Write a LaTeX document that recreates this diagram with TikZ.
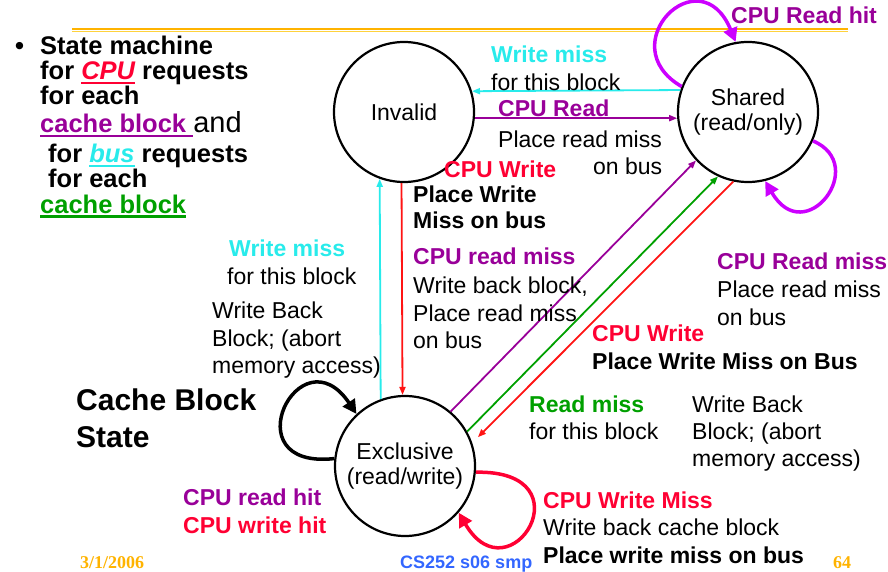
\documentclass[tikz,border=0pt]{standalone}
\usepackage{fontspec}
\setmainfont{Liberation Sans}
\newfontfamily\timesf{Liberation Serif}
\usetikzlibrary{arrows.meta}
\definecolor{cred}{RGB}{255,0,51}
\definecolor{lred}{RGB}{255,20,20}
\definecolor{cpur}{RGB}{153,0,153}
\definecolor{ccyan}{RGB}{40,235,235}
\definecolor{cgreen}{RGB}{0,160,0}
\definecolor{cmag}{RGB}{204,0,255}
\definecolor{corange}{RGB}{255,179,0}
\definecolor{cyel}{RGB}{255,210,60}
\definecolor{cblue}{RGB}{51,102,255}
\newcommand\myul[1]{\setbox0\hbox{#1}\rlap{\rule[-4.5pt]{\wd0}{2.2pt}}\box0}
\begin{document}
\begin{tikzpicture}[x=1pt,y=-1pt,
  lbl/.style={anchor=base west,inner sep=0pt,font=\fontsize{23}{27}\selectfont},
  blbl/.style={anchor=base west,inner sep=0pt,font=\fontsize{23}{27}\selectfont\bfseries},
  bul/.style={anchor=base west,inner sep=0pt,font=\fontsize{25.5}{30}\selectfont\bfseries},
  state/.style={draw,circle,line width=2.2pt,minimum size=140pt,inner sep=0pt,align=center,font=\fontsize{23}{25}\selectfont},
  conn/.style={line width=1.8pt,-{Triangle[length=8pt,width=6pt]}},
  loopc/.style={line width=3.5pt,-{Triangle[length=14pt,width=14pt]}},
  foot/.style={anchor=base west,inner sep=0pt,font=\fontsize{18}{20}\selectfont\bfseries}
]
\useasboundingbox (0,0) rectangle (888,572);
% title rule
\draw[corange,line width=2pt] (72,29) -- (848,29);
\draw[cyel,line width=1.5pt] (72,31.6) -- (848,31.6);

% bullet text
\node[bul] (bdot) at (15,55) {\textbullet};
\node[bul] (b1) at (40,55) {State machine};
\node[bul] (b2) at (40,80) {for {\color{cred}\myul{\itshape CPU}} requests};
\node[bul] (b3) at (40,105) {for each};
\node[bul] (b4) at (40,133) {{\color{cpur}\myul{cache block }}{\fontsize{29}{30}\selectfont\mdseries and}};
\node[bul] (b5) at (48,163) {for {\color{ccyan}\myul{\itshape bus}} requests};
\node[bul] (b6) at (48,188) {for each};
\node[bul] (b7) at (40,213) {\color{cgreen}\myul{cache block}};

\node[anchor=base west,inner sep=0pt,font=\fontsize{30}{36}\selectfont\bfseries,align=left] (cbs) at (76,410) {Cache Block};
\node[anchor=base west,inner sep=0pt,font=\fontsize{30}{36}\selectfont\bfseries] (cbs2) at (76,447) {State};

% states
\node[state] (inv) at (404,112) {Invalid};
\node[state] (sh) at (748,112) {Shared\\(read/only)};
\node[state] (exc) at (405,466) {Exclusive\\(read/write)};

% straight transitions
\draw[conn,ccyan] (sh.162.5) -- (inv.17.5);
\draw[conn,cpur] (inv.-5.7) -- (sh.185.7);
\draw[conn,ccyan] (exc.110.9) -- (inv.250);
\draw[conn,lred] (inv.-92.5) -- (exc.92.5);
\draw[conn,cpur] (exc.50.5) -- (sh.223);
\draw[conn,cgreen] (exc.29.1) -- (sh.245.5);
\draw[conn,lred,shorten >=8pt] (sh.258) -- (exc.19);

% loops
\draw[loopc,cmag] (sh.159.5) .. controls (610,45) and (700,-45) .. (sh.100.8);
\draw[loopc,cmag] (sh.-24.4) .. controls (870,165) and (805,250) .. (sh.-76.3);
\draw[loopc,black] (exc.174) .. controls (230,470) and (300,330) .. (exc.133);
\draw[loopc,cred] (exc.-5.7) .. controls (590,470) and (510,600) .. (exc.-41.5);

% labels
\node[blbl,text=cpur] (lrh) at (731,24) {CPU Read hit};
\node[blbl,text=ccyan] (l1) at (491,63) {Write miss};
\node[lbl] (l2) at (491,91) {for this block};
\node[blbl,text=cpur] (l3) at (498,117) {CPU Read};
\node[lbl] (l4) at (498,148) {Place read miss};
\node[lbl] (l5) at (593,175) {on bus};
\node[blbl,text=cred] (l6) at (444,178) {CPU Write};
\node[blbl] (l7) at (413,202) {Place Write};
\node[blbl] (l8) at (413,228) {Miss on bus};
\node[blbl,text=cpur] (l9) at (413,264) {CPU read miss};
\node[lbl] (l10) at (413,293) {Write back block,};
\node[lbl] (l11) at (413,321) {Place read miss};
\node[lbl] (l12) at (413,348) {on bus};
\node[blbl,text=ccyan] (l13) at (229,256) {Write miss};
\node[lbl] (l14) at (227,284) {for this block};
\node[lbl] (l15) at (212,318) {Write Back};
\node[lbl] (l16) at (212,346) {Block; (abort};
\node[lbl] (l17) at (212,373) {memory access)};
\node[blbl,text=cpur] (l18) at (717,269) {CPU Read miss};
\node[lbl] (l19) at (717,297) {Place read miss};
\node[lbl] (l20) at (717,325) {on bus};
\node[blbl,text=cred] (l21) at (592,341) {CPU Write};
\node[blbl] (l22) at (592,369) {Place Write Miss on Bus};
\node[blbl,text=cgreen] (l23) at (529,412) {Read miss};
\node[lbl] (l24) at (529,439) {for this block};
\node[lbl] (l25) at (692,412) {Write Back};
\node[lbl] (l26) at (692,439) {Block; (abort};
\node[lbl] (l27) at (692,466) {memory access)};
\node[blbl,text=cpur] (l28) at (183,505) {CPU read hit};
\node[blbl,text=cred] (l29) at (183,533) {CPU write hit};
\node[blbl,text=cred] (l30) at (543,508) {CPU Write Miss};
\node[lbl] (l31) at (543,535) {Write back cache block};
\node[blbl] (l32) at (543,563) {Place write miss on bus};

% footer
\node[foot,font=\timesf\fontsize{18}{20}\selectfont\bfseries,text=corange] (date) at (80,568) {3/1/2006};
\node[foot,text=cblue] (cs) at (400,568) {CS252 s06 smp};
\node[foot,font=\timesf\fontsize{18}{20}\selectfont\bfseries,text=corange] (pg) at (833,568) {64};
\end{tikzpicture}
\end{document}
